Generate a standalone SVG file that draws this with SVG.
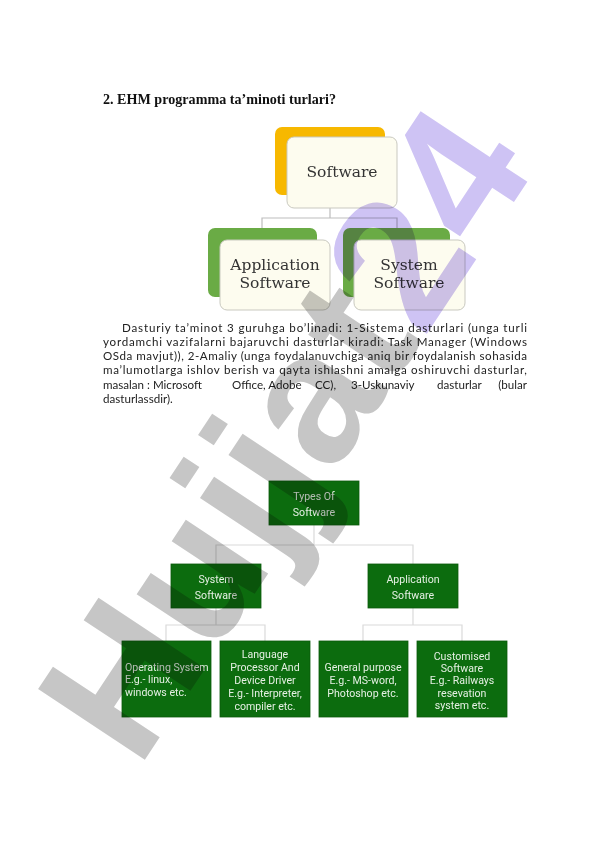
<svg xmlns="http://www.w3.org/2000/svg" width="596" height="842" viewBox="0 0 596 842">
<style>
.h{font-family:"Liberation Serif","DejaVu Serif",serif;font-weight:bold;font-size:14px;fill:#111}
.p{font-family:Lato,"Liberation Sans",Arial,sans-serif;font-size:11.6px;fill:#222}
.s{font-family:"DejaVu Serif","Liberation Serif",serif;font-size:15.5px;fill:#333;text-anchor:middle}
.card{fill:#fdfcef;stroke:#c9c9c0;stroke-width:1}
.g{fill:#0c6c0e;stroke:#0a5a0c;stroke-width:0.8}
.t{font-family:Roboto,"Liberation Sans",sans-serif;font-size:10.6px;fill:#e6f0e4;text-anchor:middle}
.tl{font-family:Roboto,"Liberation Sans",sans-serif;font-size:10.6px;fill:#e6f0e4}
.c1{fill:none;stroke:#bdbdbd;stroke-width:1.2}
.c2{fill:none;stroke:#dadada;stroke-width:1.2}
.wm{font-family:"Liberation Sans",Arial,sans-serif;font-weight:bold;font-size:186px;mix-blend-mode:multiply}
</style>
<rect width="596" height="842" fill="#fff"/>
<text class="h" x="103" y="104" textLength="233" lengthAdjust="spacingAndGlyphs">2.  EHM programma ta’minoti turlari?</text>

<g id="connectors-top">
<path class="c1" d="M330 208V218M262 230V218H397V230"/>
</g>
<g id="node-software">
<rect x="275" y="127" width="110" height="68" rx="7" fill="#f7b800"/>
<rect class="card" x="287" y="137" width="110" height="71" rx="7"/>
<text class="s" x="342" y="177">Software</text>
</g>
<g id="node-application">
<rect x="208" y="228" width="109" height="69" rx="7" fill="#6aab45"/>
<rect class="card" x="220" y="240" width="110" height="70" rx="7" fill="#f7faf2"/>
<text class="s" x="275" y="270">Application</text>
<text class="s" x="275" y="288">Software</text>
</g>
<g id="node-system">
<rect x="343" y="228" width="107" height="69" rx="7" fill="#6aab45"/>
<rect class="card" x="354" y="240" width="111" height="70" rx="7" fill="#f7faf2"/>
<text class="s" x="409" y="270">System</text>
<text class="s" x="409" y="288">Software</text>
</g>

<g id="paragraph">
<text class="p" x="122" y="332" textLength="405" lengthAdjust="spacing">Dasturiy ta’minot 3 guruhga bo’linadi: 1-Sistema dasturlari (unga turli</text>
<text class="p" x="103" y="346" textLength="424" lengthAdjust="spacing">yordamchi vazifalarni bajaruvchi dasturlar kiradi: Task Manager (Windows</text>
<text class="p" x="103" y="360" textLength="424" lengthAdjust="spacing">OSda mavjut)), 2-Amaliy (unga foydalanuvchiga aniq bir foydalanish sohasida</text>
<text class="p" x="103" y="374" textLength="424" lengthAdjust="spacing">ma’lumotlarga ishlov berish va qayta ishlashni amalga oshiruvchi dasturlar,</text>
<text class="p" x="103" y="389">masalan : Microsoft</text>
<text class="p" x="232" y="389">Office, Adobe</text>
<text class="p" x="315" y="389">CC),</text>
<text class="p" x="351" y="389">3-Uskunaviy</text>
<text class="p" x="437" y="389">dasturlar</text>
<text class="p" x="527" y="389" text-anchor="end">(bular</text>
<text class="p" x="103" y="403">dasturlassdir).</text>
</g>

<g id="connectors-bottom">
<path class="c2" d="M314 525V545M216 564V545H413V564"/>
<path class="c2" d="M216 608V625M166 641V625H265V641"/>
<path class="c2" d="M413 608V625M363 641V625H462V641"/>
</g>
<g id="node-types">
<rect class="g" x="269" y="481" width="90" height="44"/>
<text class="t" x="314" y="500">Types Of</text>
<text class="t" x="314" y="516">Software</text>
</g>
<g id="node-system-sw">
<rect class="g" x="171" y="564" width="90" height="44"/>
<text class="t" x="216" y="583">System</text>
<text class="t" x="216" y="599">Software</text>
</g>
<g id="node-app-sw">
<rect class="g" x="368" y="564" width="90" height="44"/>
<text class="t" x="413" y="583">Application</text>
<text class="t" x="413" y="599">Software</text>
</g>
<g id="node-os">
<rect class="g" x="122" y="641" width="89" height="76"/>
<text class="tl" x="125" y="671">Operating System</text>
<text class="tl" x="125" y="683">E.g.- linux,</text>
<text class="tl" x="125" y="696">windows etc.</text>
</g>
<g id="node-lang">
<rect class="g" x="220" y="641" width="90" height="76"/>
<text class="t" x="265" y="658">Language</text>
<text class="t" x="265" y="671">Processor And</text>
<text class="t" x="265" y="684">Device Driver</text>
<text class="t" x="265" y="697">E.g.- Interpreter,</text>
<text class="t" x="265" y="710">compiler etc.</text>
</g>
<g id="node-general">
<rect class="g" x="319" y="641" width="89" height="76"/>
<text class="t" x="363" y="671">General purpose</text>
<text class="t" x="363" y="684">E.g.- MS-word,</text>
<text class="t" x="363" y="697">Photoshop etc.</text>
</g>
<g id="node-custom">
<rect class="g" x="417" y="641" width="90" height="76"/>
<text class="t" x="462" y="660">Customised</text>
<text class="t" x="462" y="672">Software</text>
<text class="t" x="462" y="684">E.g.- Railways</text>
<text class="t" x="462" y="697">resevation</text>
<text class="t" x="462" y="709">system etc.</text>
</g>

<g id="watermark">
<text class="wm" transform="translate(138,770) rotate(-56.5)"><tspan fill="#c6c6c6">Hujjat</tspan><tspan fill="#cec3f4">24</tspan></text>
</g>
</svg>
